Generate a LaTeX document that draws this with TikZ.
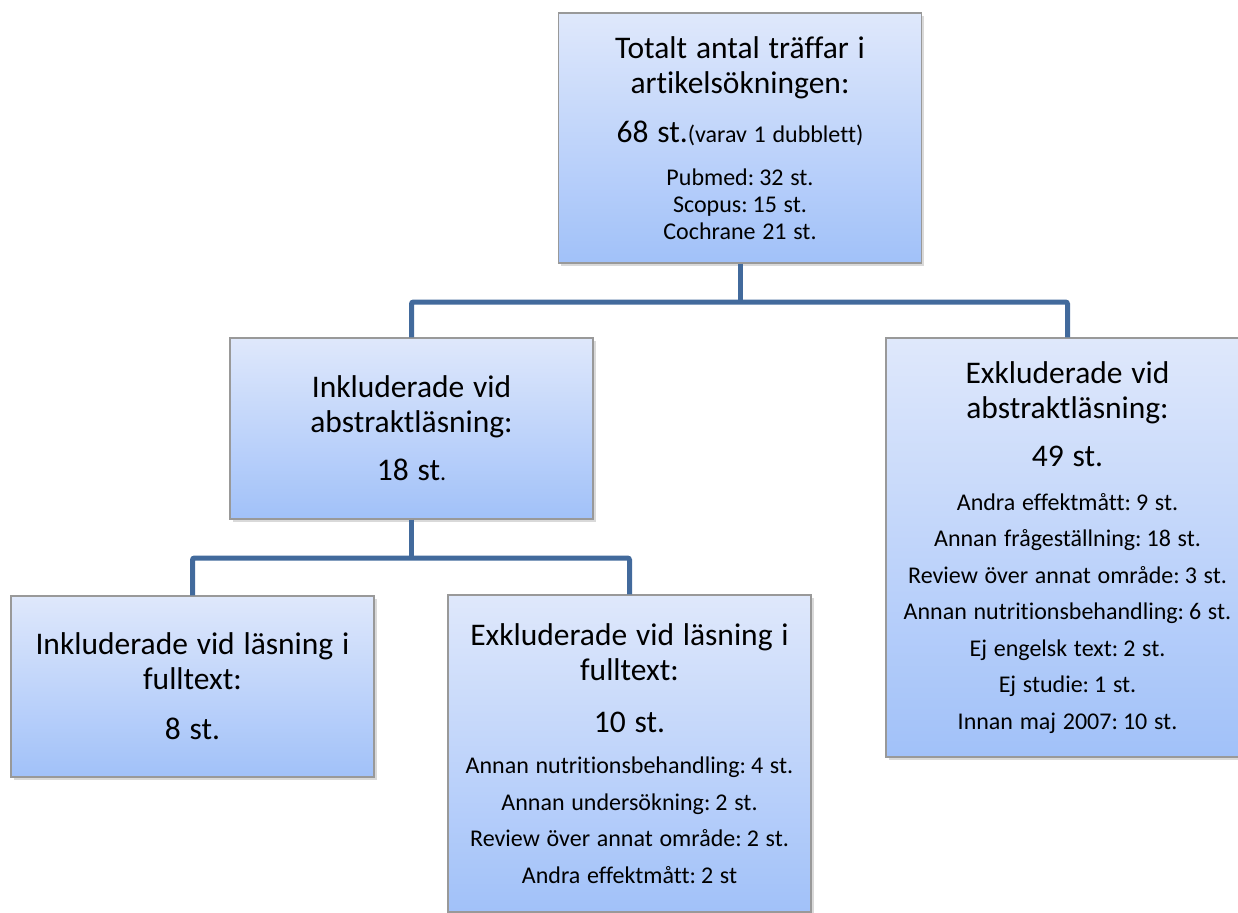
\documentclass[tikz,border=0pt]{standalone}
\usepackage{fontspec}
\setmainfont{Carlito}[Ligatures=CommonOff]
\usetikzlibrary{positioning,shadows}
\definecolor{linkblue}{RGB}{66,106,156}
\definecolor{boxtop}{RGB}{223,232,251}
\definecolor{boxbot}{RGB}{161,193,249}
\tikzset{sbox/.style={draw={black!40}, line width=1.2pt, top color=boxtop, bottom color=boxbot, minimum width=363pt, inner sep=0pt, text width=355pt, align=center, drop shadow={shadow xshift=2.5pt, shadow yshift=-3pt, opacity=0.3}}}
\tikzset{conn/.style={draw=linkblue, line width=5pt, rounded corners=2pt}}
\newcommand{\hdtxt}{\fontsize{31.5}{35}\selectfont\spaceskip=0.28em\relax}
\newcommand{\smtxt}{\fontsize{24}{27}\selectfont\spaceskip=0.28em\relax}
\newcommand{\lsttxt}{\fontsize{24}{36.5}\selectfont\spaceskip=0.28em\relax}

\begin{document}
\begin{tikzpicture}[x=1pt, y=-1pt]
        \useasboundingbox (0,0) rectangle (1238,912);
        \node[sbox, minimum height=250pt] (T) at (740,138){{\hdtxt Totalt antal träffar i\\ artikelsökningen:\par}\vspace{14pt}{\hdtxt 68 st.{\smtxt(varav 1 dubblett)}\par}\vspace{16pt}{\smtxt Pubmed: 32 st.\\ Scopus: 15 st.\\ Cochrane 21 st.\par}};
        \node[sbox, minimum height=181pt] (IA) at (411.5,428.5){{\hdtxt Inkluderade vid\\ abstraktläsning:\par}\vspace{13pt}{\hdtxt 18 st{\smtxt .}\par}};
        \node[sbox, minimum height=419pt] (EA) at (1067.5,547.5){{\hdtxt Exkluderade vid\\ abstraktläsning:\par}\vspace{13pt}{\hdtxt 49 st.\par}\vspace{7.5pt}{\lsttxt Andra effektmått: 9 st.\\ Annan frågeställning: 18 st.\\ Review över annat område: 3 st.\\ Annan nutritionsbehandling: 6 st.\\ Ej engelsk text: 2 st.\\ Ej studie: 1 st.\\ Innan maj 2007: 10 st.\par}};
        \node[sbox, minimum height=181pt] (IF) at (192.5,686.5){{\hdtxt Inkluderade vid läsning i\\ fulltext:\par}\vspace{15pt}{\hdtxt 8 st.\par}};
        \node[sbox, minimum height=317pt] (EF) at (629.5,753.5){{\hdtxt Exkluderade vid läsning i\\ fulltext:\par}\vspace{17pt}{\hdtxt 10 st.\par}\vspace{4.5pt}{\lsttxt Annan nutritionsbehandling: 4 st.\\ Annan undersökning: 2 st.\\ Review över annat område: 2 st.\\ Andra effektmått: 2 st\par}};

        \coordinate (J1) at (740,302);
        \coordinate (J2) at (411.5,558);

        \begin{scope}[conn]
            \draw (T.south) -- (J1);
            \draw (IA.north) |- (J1) -| (EA.north);
            \draw (IA.south) -- (J2);
            \draw (IF.north) |- (J2) -| (EF.north);
        \end{scope}
    \end{tikzpicture}
\end{document}
